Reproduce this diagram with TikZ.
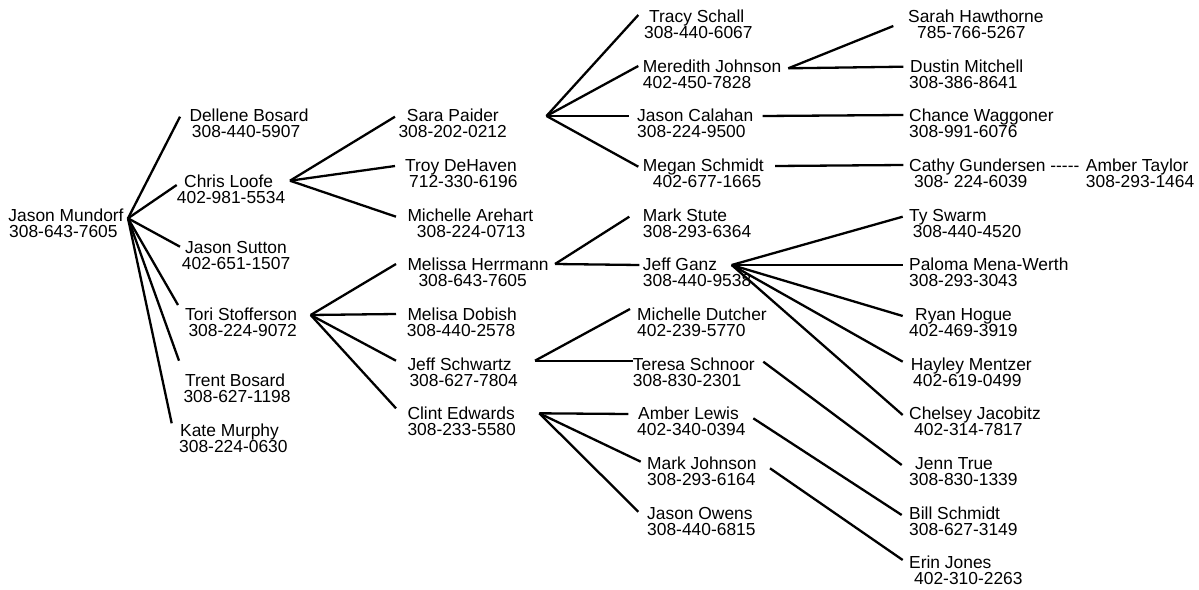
\documentclass[tikz,border=0pt]{standalone}
\usepackage{fontspec}
\setmainfont{Liberation Sans}
\newcommand\fs{\fontsize{17.4}{17}\selectfont}
\tikzset{
  nm/.style={anchor=base west, inner sep=0pt, font=\fs, text=black},
  link/.style={line width=2.3pt, draw=black},
}
% id, x name, baseline, name, x phone, phone, in dx, in dy
\newcommand\person[8]{%
  \node[nm] (#1) at (#2,#3) {#4};
  \node[nm] (#1-p) at (#5,{#3+16.7}) {#6};
  \coordinate (#1-in) at ([shift={(#7,#8)}]#1.base west);
}
\newcommand\outport[3]{\coordinate (#1-out) at ([shift={(#2,#3)}]#1.base west);}
\begin{document}
\begin{tikzpicture}[x=1pt,y=-1pt]
\useasboundingbox[fill=white] (0,0) rectangle (1199,589);
% column 0
\person{mundorf}{8.3}{221}{Jason Mundorf}{9}{308-643-7605}{0}{0}
\outport{mundorf}{119.7}{-2.7}
% column 1
\person{dellene}{189.3}{121}{Dellene Bosard}{191.7}{308-440-5907}{-9.3}{-4.3}
\person{chris}{184}{187}{Chris Loofe}{176.7}{402-981-5534}{-7.3}{-2}
\person{sutton}{185}{253}{Jason Sutton}{181.7}{402-651-1507}{-5}{-6.3}
\person{tori}{185}{320}{Tori Stofferson}{188.3}{308-224-9072}{-7}{-15}
\person{trent}{185}{386}{Trent Bosard}{183.3}{308-627-1198}{-6}{-25.3}
\person{kate}{180}{436}{Kate Murphy}{179}{308-224-0630}{-8.3}{-12.7}
\outport{chris}{106}{-6.3}
\outport{tori}{125.7}{-5}
% column 2
\person{sara}{406.7}{121}{Sara Paider}{398.3}{308-202-0212}{-11.7}{-4.3}
\person{troy}{405}{171}{Troy DeHaven}{409}{712-330-6196}{-10}{-5}
\person{michelleA}{407.3}{221}{Michelle Arehart}{416.7}{308-224-0713}{-11.3}{-4.3}
\person{melissaH}{407.3}{270}{Melissa Herrmann}{418.3}{308-643-7605}{-11.3}{-6}
\person{melisaD}{407.3}{320}{Melisa Dobish}{406.7}{308-440-2578}{-11.3}{-6}
\person{jeffS}{407.3}{370}{Jeff Schwartz}{409.3}{308-627-7804}{-11.3}{-9.3}
\person{clint}{407.3}{419}{Clint Edwards}{407.3}{308-233-5580}{-11.3}{-10.7}
\outport{sara}{139.8}{-5}
\outport{melissaH}{147.7}{-6}
\outport{jeffS}{127.7}{-9.3}
\outport{clint}{132}{-5.7}
% column 3
\person{tracy}{649}{22}{Tracy Schall}{644}{308-440-6067}{-10.7}{-7}
\person{meredith}{642.7}{72}{Meredith Johnson}{642.7}{402-450-7828}{-4.4}{-6}
\person{jasonC}{637}{121}{Jason Calahan}{637}{308-224-9500}{-7.7}{-5}
\person{megan}{642.7}{171}{Megan Schmidt}{652.7}{402-677-1665}{-4.4}{-4.3}
\person{markS}{642.7}{221}{Mark Stute}{642.7}{308-293-6364}{-13.4}{-4.3}
\person{jeffG}{642.7}{270}{Jeff Ganz}{642.7}{308-440-9538}{-3.4}{-5}
\person{michelleD}{637}{320}{Michelle Dutcher}{637}{402-239-5770}{-7}{-11}
\person{teresa}{632.7}{370}{Teresa Schnoor}{632.7}{308-830-2301}{0}{-9.3}
\person{amberL}{638}{419}{Amber Lewis}{637}{402-340-0394}{-9.7}{-5}
\person{markJ}{647}{469}{Mark Johnson}{647}{308-293-6164}{-6.3}{-7.3}
\person{jasonO}{647}{519}{Jason Owens}{647}{308-440-6815}{-8.7}{-7.3}
\outport{meredith}{145.6}{-3.7}
\outport{jasonC}{125.7}{-5}
\outport{megan}{132.3}{-5}
\outport{jeffG}{89}{-5}
\outport{teresa}{130.6}{-8.3}
\outport{amberL}{115.3}{-0.7}
\outport{markJ}{123}{-0.7}
% column 4
\person{sarahH}{908}{22}{Sarah Hawthorne}{917}{785-766-5267}{-14.7}{4}
\person{dustin}{910}{72}{Dustin Mitchell}{909}{308-386-8641}{-6.7}{-5.3}
\person{chance}{909}{121}{Chance Waggoner}{909}{308-991-6076}{-5.7}{-6}
\person{cathy}{909}{171}{Cathy Gundersen -{}-{}-{}-{}-}{914}{308- 224-6039}{-5.7}{-6}
\person{amberT}{1085.7}{171}{Amber Taylor}{1085.7}{308-293-1464}{0}{0}
\person{ty}{909}{221}{Ty Swarm}{912.7}{308-440-4520}{-6.3}{-4.3}
\person{paloma}{909}{270}{Paloma Mena-Werth}{909}{308-293-3043}{-6.3}{-5}
\person{ryan}{915}{320}{Ryan Hogue}{909}{402-469-3919}{-12.3}{-4}
\person{hayley}{910.7}{370}{Hayley Mentzer}{913}{402-619-0499}{-8}{-8.3}
\person{chelsey}{909}{419}{Chelsey Jacobitz}{914}{402-314-7817}{-6.3}{-4}
\person{jenn}{915}{469}{Jenn True}{909}{308-830-1339}{-13.3}{-4}
\person{bill}{909}{519}{Bill Schmidt}{909}{308-627-3149}{-7.3}{-4}
\person{erin}{909}{568}{Erin Jones}{914}{402-310-2263}{-6.3}{-8}
% connectors
\foreach \c in {dellene,chris,sutton,tori,trent,kate}
  \draw[link] (mundorf-out) -- (\c-in);
\foreach \c in {sara,troy,michelleA}
  \draw[link] (chris-out) -- (\c-in);
\foreach \c in {melissaH,melisaD,jeffS,clint}
  \draw[link] (tori-out) -- (\c-in);
\foreach \c in {tracy,meredith,jasonC,megan}
  \draw[link] (sara-out) -- (\c-in);
\foreach \c in {markS,jeffG}
  \draw[link] (melissaH-out) -- (\c-in);
\foreach \c in {michelleD,teresa}
  \draw[link] (jeffS-out) -- (\c-in);
\foreach \c in {amberL,markJ,jasonO}
  \draw[link] (clint-out) -- (\c-in);
\foreach \c in {sarahH,dustin}
  \draw[link] (meredith-out) -- (\c-in);
\draw[link] (jasonC-out) -- (chance-in);
\draw[link] (megan-out) -- (cathy-in);
\foreach \c in {ty,paloma,ryan,hayley,chelsey}
  \draw[link] (jeffG-out) -- (\c-in);
\draw[link] (teresa-out) -- (jenn-in);
\draw[link] (amberL-out) -- (bill-in);
\draw[link] (markJ-out) -- (erin-in);
\end{tikzpicture}
\end{document}
